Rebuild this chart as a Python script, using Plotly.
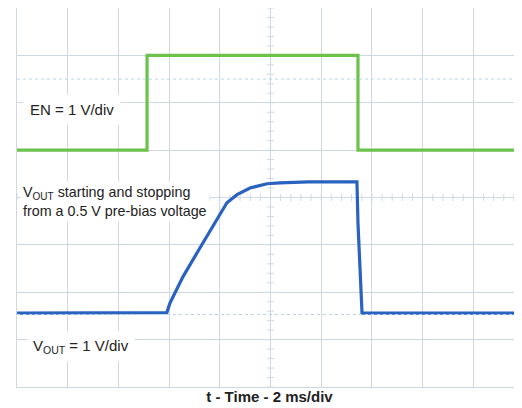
import numpy as np
import plotly.graph_objects as go

# scope settings: 2 ms/div horizontally, 1 V/div vertically, 10 x 8 divisions
ms_per_div = 2.0
en_offset = 1.0      # EN ground position (div above centre)
vout_offset = -2.94  # VOUT ground position (div above centre)

# EN trace (V)
en_t = [0.0, 5.13, 5.13, 13.45, 13.45, 20.0]
en_v = [0.0, 0.0, 2.0, 2.0, 0.0, 0.0]

# VOUT trace (V): starts from a 0.5 V pre-bias, ramps to ~3.3 V, then discharges
vout_t = [0.0, 5.91, 6.04, 6.55, 7.22, 7.89, 8.28, 8.68, 9.19, 9.86, 10.37, 11.5, 13.41, 13.45, 13.57, 13.61, 20.0]
vout_v = [0.5, 0.51, 0.72, 1.27, 1.88, 2.47, 2.83, 3.0, 3.14, 3.23, 3.25, 3.27, 3.27, 2.4, 1.0, 0.5, 0.5]

green = "#6cc24a"
blue = "#2a62c0"
grid = "#cfd9e3"
font_family = "Liberation Sans, Arial, sans-serif"

fig = go.Figure()

# small graticule ticks on the centre lines
cx = np.arange(0, 20.01, ms_per_div / 5)
cy = np.arange(-4, 4.01, 0.2)
fig.add_trace(go.Scatter(x=cx, y=np.zeros_like(cx), mode="markers",
                         marker=dict(symbol="line-ns", size=5, line=dict(color=grid, width=1)),
                         hoverinfo="skip", showlegend=False))
fig.add_trace(go.Scatter(x=np.full_like(cy, 10.0), y=cy, mode="markers",
                         marker=dict(symbol="line-ew", size=5, line=dict(color=grid, width=1)),
                         hoverinfo="skip", showlegend=False))

fig.add_trace(go.Scatter(x=en_t, y=[v + en_offset for v in en_v], mode="lines",
                         line=dict(color=green, width=3.2), showlegend=False))
fig.add_trace(go.Scatter(x=vout_t, y=[v + vout_offset for v in vout_v], mode="lines",
                         line=dict(color=blue, width=3.2), showlegend=False))

# dotted level markers
fig.add_hline(y=en_offset + 1.5, line=dict(color="#b8d4ea", width=1, dash="dot"))
fig.add_hline(y=vout_offset + 0.47, line=dict(color="#b8d4ea", width=1, dash="dot"))

txt = dict(family=font_family, size=15, color="#222222")
fig.add_annotation(x=0.0, y=en_offset + 0.85, xref="x", yref="y", xanchor="left", yanchor="middle",
                   xshift=6, text="EN = 1 V/div", showarrow=False, font=txt,
                   bgcolor="white", borderpad=6)
fig.add_annotation(x=0.0, y=-0.08, xref="x", yref="y", xanchor="left", yanchor="middle",
                   xshift=3, text="V<sub>OUT</sub> starting and stopping<br>from a 0.5 V pre-bias voltage",
                   align="left", showarrow=False, font=dict(txt, size=14.3),
                   bgcolor="white", borderpad=2)
fig.add_annotation(x=0.0, y=-3.15, xref="x", yref="y", xanchor="left", yanchor="middle",
                   xshift=10, text="V<sub>OUT</sub> = 1 V/div", showarrow=False, font=txt,
                   bgcolor="white", borderpad=5)

fig.update_xaxes(range=[0, 19.92], dtick=ms_per_div, showticklabels=False, ticks="",
                 showgrid=True, gridcolor=grid, gridwidth=1, zeroline=False,
                 showline=True, linecolor=grid, mirror=True,
                 title=dict(text="<b>t - Time - 2 ms/div</b>", standoff=4,
                            font=dict(family=font_family, size=15, color="#222222")))
fig.update_yaxes(range=[-4, 4], dtick=1, showticklabels=False, ticks="",
                 showgrid=True, gridcolor=grid, gridwidth=1, zeroline=False,
                 showline=True, linecolor=grid, mirror=True)

# the page adds an 8 px body margin, so the figure is sized/offset to compensate
fig.update_layout(width=514, height=400, margin=dict(l=9, r=0, t=0, b=21),
                  plot_bgcolor="white", paper_bgcolor="white")

fig.write_html("out.html")
